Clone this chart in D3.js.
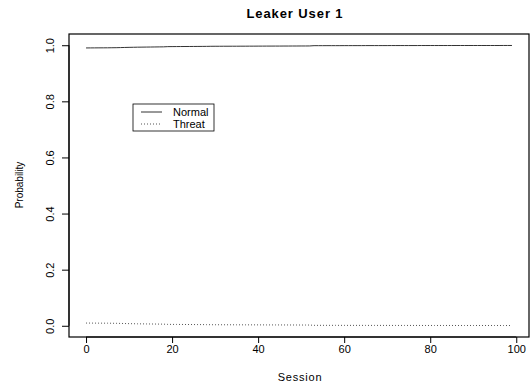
<!DOCTYPE html>
<html>
<head>
<meta charset="utf-8">
<script src="https://cdn.jsdelivr.net/npm/d3@7"></script>
<style>
  body { margin: 0; background: #fff; }
  text { font-family: "Liberation Sans", Arial, sans-serif; fill: #000; }
</style>
</head>
<body>
<svg id="chart" width="531" height="385"></svg>
<script>
const TITLE = "Leaker User 1";
const X_LABEL = "Session";
const Y_LABEL = "Probability";
const SERIES_NAMES = ["Normal", "Threat"];
const X_TICKS = [0, 20, 40, 60, 80, 100];
const Y_TICKS = [0, 0.2, 0.4, 0.6, 0.8, 1.0];

// sessions 0..99
const sessions = d3.range(0, 100);

const normalValues = [
  0.9903, 0.9904, 0.9905, 0.9906, 0.9907, 0.9908, 0.9910, 0.9912, 0.9916, 0.9920,
  0.9924, 0.9927, 0.9930, 0.9932, 0.9934, 0.9936, 0.9938, 0.9940, 0.9942, 0.9950,
  0.9951, 0.9952, 0.9953, 0.9954, 0.9955, 0.9956, 0.9957, 0.9958, 0.9959, 0.9962,
  0.9963, 0.9963, 0.9964, 0.9964, 0.9965, 0.9965, 0.9966, 0.9966, 0.9967, 0.9967,
  0.9968, 0.9968, 0.9969, 0.9969, 0.9970, 0.9970, 0.9971, 0.9971, 0.9972, 0.9972,
  0.9973, 0.9973, 0.9974, 0.9984, 0.9984, 0.9984, 0.9985, 0.9985, 0.9985, 0.9985,
  0.9986, 0.9986, 0.9986, 0.9986, 0.9986, 0.9987, 0.9987, 0.9987, 0.9987, 0.9987,
  0.9987, 0.9988, 0.9988, 0.9988, 0.9988, 0.9988, 0.9988, 0.9988, 0.9989, 0.9989,
  0.9989, 0.9989, 0.9989, 0.9989, 0.9989, 0.9989, 0.9990, 0.9990, 0.9990, 0.9990,
  0.9990, 0.9990, 0.9990, 0.9990, 0.9990, 0.9990, 0.9990, 0.9991, 0.9991, 0.9991
];

const threatValues = [
  0.0097, 0.0096, 0.0095, 0.0094, 0.0093, 0.0092, 0.0090, 0.0088, 0.0084, 0.0080,
  0.0076, 0.0073, 0.0070, 0.0068, 0.0066, 0.0064, 0.0062, 0.0060, 0.0058, 0.0050,
  0.0049, 0.0048, 0.0047, 0.0046, 0.0045, 0.0044, 0.0043, 0.0042, 0.0041, 0.0038,
  0.0037, 0.0037, 0.0036, 0.0036, 0.0035, 0.0035, 0.0034, 0.0034, 0.0033, 0.0033,
  0.0032, 0.0032, 0.0031, 0.0031, 0.0030, 0.0030, 0.0029, 0.0029, 0.0028, 0.0028,
  0.0027, 0.0027, 0.0026, 0.0016, 0.0016, 0.0016, 0.0015, 0.0015, 0.0015, 0.0015,
  0.0014, 0.0014, 0.0014, 0.0014, 0.0014, 0.0013, 0.0013, 0.0013, 0.0013, 0.0013,
  0.0013, 0.0012, 0.0012, 0.0012, 0.0012, 0.0012, 0.0012, 0.0012, 0.0011, 0.0011,
  0.0011, 0.0011, 0.0011, 0.0011, 0.0011, 0.0011, 0.0010, 0.0010, 0.0010, 0.0010,
  0.0010, 0.0010, 0.0010, 0.0010, 0.0010, 0.0010, 0.0010, 0.0009, 0.0009, 0.0009
];

const svg = d3.select("#chart");

// R style: data range plus 4% each side
const x = d3.scaleLinear().domain([-3.96, 102.96]).range([69, 529]);
const y = d3.scaleLinear().domain([-0.04, 1.04]).range([337, 34]);

// plot box
svg.append("rect")
  .attr("x", x.range()[0])
  .attr("y", y.range()[1])
  .attr("width", x.range()[1] - x.range()[0])
  .attr("height", y.range()[0] - y.range()[1])
  .attr("fill", "none")
  .attr("stroke", "#000")
  .attr("stroke-width", 1.2);

// x axis
const xAxis = svg.append("g")
  .attr("transform", `translate(0,${y.range()[0]})`)
  .call(d3.axisBottom(x).tickValues(X_TICKS).tickSize(6).tickPadding(2).tickSizeOuter(0));
xAxis.select(".domain").attr("d", `M${x(0)},0H${x(100)}`);
xAxis.selectAll("text").style("font-size", "11px");

// y axis, labels rotated like R's default
const yAxis = svg.append("g")
  .attr("transform", `translate(${x.range()[0]},0)`)
  .call(d3.axisLeft(y).tickValues(Y_TICKS).tickSize(7).tickFormat(d3.format(".1f")).tickSizeOuter(0));
yAxis.select(".domain").attr("d", `M0,${y(0)}V${y(1)}`);
yAxis.selectAll(".tick text")
  .attr("x", null).attr("dy", null)
  .attr("text-anchor", "middle")
  .attr("transform", "translate(-19,0) rotate(-90)")
  .attr("dy", "0.35em")
  .style("font-size", "11px");

// lines
const line = (vals) => d3.line()
  .x((d) => x(d))
  .y((d, i) => y(vals[i]))(sessions);

svg.append("path")
  .attr("d", line(normalValues))
  .attr("fill", "none")
  .attr("stroke", "#333")
  .attr("stroke-width", 1);

svg.append("path")
  .attr("d", line(threatValues))
  .attr("fill", "none")
  .attr("stroke", "#555")
  .attr("stroke-width", 1)
  .attr("stroke-dasharray", "1,2");

// titles
svg.append("text")
  .attr("x", 295).attr("y", 18)
  .attr("text-anchor", "middle")
  .style("font-size", "13px").style("font-weight", "bold")
  .style("letter-spacing", "0.9px")
  .text(TITLE);

svg.append("text")
  .attr("x", 300).attr("y", 381)
  .attr("text-anchor", "middle")
  .style("font-size", "11px")
  .style("letter-spacing", "0.8px")
  .text(X_LABEL);

svg.append("text")
  .attr("transform", "translate(23,185) rotate(-90)")
  .attr("text-anchor", "middle")
  .style("font-size", "10px")
  .text(Y_LABEL);

// legend
const legend = svg.append("g").attr("transform", "translate(133,104)");
legend.append("rect")
  .attr("width", 81).attr("height", 27)
  .attr("fill", "#fff").attr("stroke", "#000").attr("stroke-width", 0.8);
SERIES_NAMES.forEach((name, i) => {
  const ly = 8 + i * 12;
  legend.append("line")
    .attr("x1", 8).attr("x2", 29).attr("y1", ly).attr("y2", ly)
    .attr("stroke", i === 0 ? "#333" : "#555")
    .attr("stroke-dasharray", i === 0 ? null : "1,2");
  legend.append("text")
    .attr("x", 40).attr("y", ly).attr("dy", "0.35em")
    .style("font-size", "11px")
    .text(name);
});
</script>
</body>
</html>
